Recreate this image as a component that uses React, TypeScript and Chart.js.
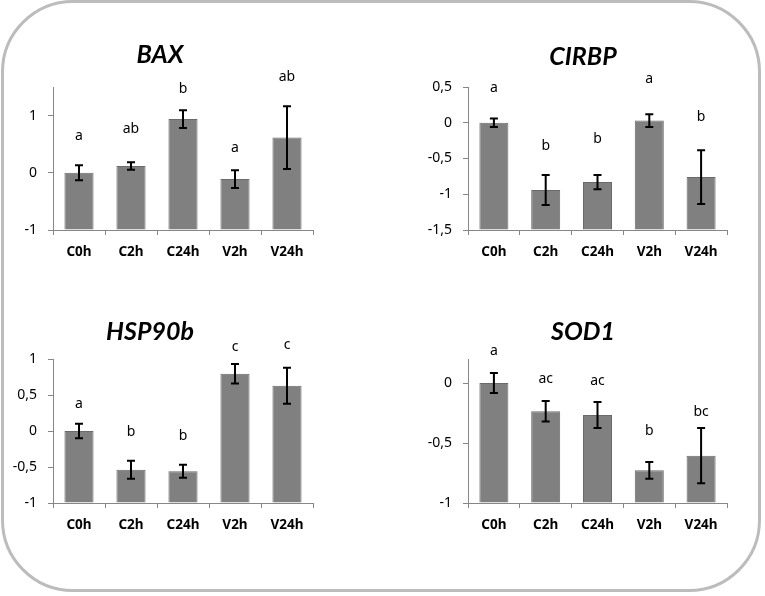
import React, { useEffect, useRef } from "react";
import { Chart, registerables } from "chart.js";

Chart.register(...registerables);

const categories = ["C0h", "C2h", "C24h", "V2h", "V24h"];

const baxValues = [0, 0.12, 0.94, -0.11, 0.615];
const baxErrors = [0.13, 0.065, 0.155, 0.155, 0.55];
const baxLetters = ["a", "ab", "b", "a", "ab"];
const baxLetterY = [0.64, 0.76, 1.47, 0.44, 1.67];

const cirbpValues = [0, -0.94, -0.83, 0.03, -0.76];
const cirbpErrors = [0.06, 0.21, 0.1, 0.088, 0.375];
const cirbpLetters = ["a", "b", "b", "a", "b"];
const cirbpLetterY = [0.49, -0.33, -0.23, 0.61, 0.08];

const hspValues = [0, -0.537, -0.56, 0.796, 0.63];
const hspErrors = [0.1, 0.125, 0.09, 0.135, 0.25];
const hspLetters = ["a", "b", "b", "c", "c"];
const hspLetterY = [0.38, -0.02, -0.07, 1.17, 1.2];

const sodValues = [0, -0.236, -0.267, -0.728, -0.606];
const sodErrors = [0.083, 0.085, 0.108, 0.07, 0.23];
const sodLetters = ["a", "ac", "ac", "b", "bc"];
const sodLetterY = [0.27, 0.03, 0.02, -0.4, -0.24];

const FONT = "'Noto Sans', 'DejaVu Sans', sans-serif";
const TITLE_FONT = "bold italic 25px Lato, 'Open Sans', sans-serif";

type Panel = {
  title: string;
  values: number[];
  errors: number[];
  letters: string[];
  letterY: number[];
  min: number;
  max: number;
  step: number;
  x0: number;
  y0: number;
  w: number;
  h: number;
  padTop: number;
  titleX: number;
  titleY: number;
};

const panels: Panel[] = [
  { title: "BAX", values: baxValues, errors: baxErrors, letters: baxLetters, letterY: baxLetterY, min: -1, max: 1.5, step: 1,
    x0: 13, y0: 30, w: 320, h: 240, padTop: 57, titleX: 160, titleY: 55 },
  { title: "CIRBP", values: cirbpValues, errors: cirbpErrors, letters: cirbpLetters, letterY: cirbpLetterY, min: -1.5, max: 0.5, step: 0.5,
    x0: 428, y0: 30, w: 319, h: 240, padTop: 57, titleX: 583, titleY: 57 },
  { title: "HSP90b", values: hspValues, errors: hspErrors, letters: hspLetters, letterY: hspLetterY, min: -1, max: 1, step: 0.5,
    x0: 13, y0: 305, w: 320, h: 238, padTop: 54, titleX: 150, titleY: 332 },
  { title: "SOD1", values: sodValues, errors: sodErrors, letters: sodLetters, letterY: sodLetterY, min: -1, max: 0.2, step: 0.5,
    x0: 428, y0: 305, w: 319, h: 238, padTop: 54, titleX: 583, titleY: 332 },
];

function ChartPanel({ p }: { p: Panel }) {
  const ref = useRef<HTMLCanvasElement | null>(null);
  useEffect(() => {
    if (!ref.current) return;
    const overlay = {
      id: "overlay",
      afterDatasetsDraw(chart: any) {
        const ctx = chart.ctx;
        const ys = chart.scales.y;
        const meta = chart.getDatasetMeta(0);
        ctx.save();
        ctx.strokeStyle = "#000";
        ctx.lineWidth = 2;
        p.values.forEach((v, i) => {
          const x = meta.data[i].x;
          const yt = ys.getPixelForValue(v + p.errors[i]);
          const yb = ys.getPixelForValue(v - p.errors[i]);
          ctx.beginPath();
          ctx.moveTo(x, yt);
          ctx.lineTo(x, yb);
          ctx.moveTo(x - 4, yt);
          ctx.lineTo(x + 4, yt);
          ctx.moveTo(x - 4, yb);
          ctx.lineTo(x + 4, yb);
          ctx.stroke();
        });
        ctx.restore();
      },
      afterDraw(chart: any) {
        const ctx = chart.ctx;
        const ys = chart.scales.y;
        const meta = chart.getDatasetMeta(0);
        ctx.save();
        ctx.fillStyle = "#000";
        ctx.textAlign = "center";
        ctx.textBaseline = "middle";
        ctx.font = "14px " + FONT;
        p.letters.forEach((l, i) => {
          ctx.fillText(l, meta.data[i].x, ys.getPixelForValue(p.letterY[i]));
        });
        ctx.font = TITLE_FONT;
        ctx.fillText(p.title, p.titleX - p.x0, p.titleY - p.y0);
        ctx.restore();
      },
    };
    const chart = new Chart(ref.current, {
      type: "bar",
      data: {
        labels: categories,
        datasets: [
          {
            data: p.values,
            base: p.min,
            backgroundColor: "#808080",
            borderColor: "#6a6a6a",
            borderWidth: 1,
            barPercentage: 0.56,
            categoryPercentage: 1,
          } as any,
        ],
      },
      options: {
        animation: false,
        responsive: false,
        devicePixelRatio: 1,
        layout: { padding: { left: 0, top: p.padTop, right: 20, bottom: 0 } },
        plugins: { legend: { display: false }, tooltip: { enabled: false }, title: { display: false } },
        scales: {
          x: {
            afterFit: (s: any) => { s.height = 40; },
            grid: { display: true, drawOnChartArea: false, tickLength: 5, color: "#868686", offset: true },
            border: { color: "#868686", width: 1 },
            ticks: { color: "#000", font: { family: FONT, size: 13.5, weight: "bold" }, padding: 9, maxRotation: 0 },
          },
          y: {
            min: p.min,
            max: p.max,
            afterFit: (s: any) => { s.width = 40; },
            grid: { display: true, drawOnChartArea: false, tickLength: 5, color: "#868686" },
            border: { color: "#868686", width: 1 },
            ticks: {
              stepSize: p.step,
              includeBounds: false,
              color: "#000",
              padding: 11,
              font: { family: FONT, size: 14 },
              callback: (v: any) => String(Math.round(Number(v) * 10) / 10).replace(".", ","),
            },
          },
        },
      } as any,
      plugins: [overlay],
    });
    return () => chart.destroy();
  }, [p]);
  return (
    <canvas
      ref={ref}
      width={p.w}
      height={p.h}
      style={{ position: "absolute", left: p.x0, top: p.y0, width: p.w, height: p.h }}
    />
  );
}

export default function App() {
  return (
    <div style={{ position: "absolute", left: 0, top: 0, width: 765, height: 596, background: "#fff" }}>
      <div
        style={{
          position: "absolute",
          left: 1,
          top: 0,
          width: 760,
          height: 592,
          boxSizing: "border-box",
          border: "3px solid #bcbcbc",
          borderRadius: 72,
        }}
      />
      {panels.map((p) => (
        <ChartPanel key={p.title} p={p} />
      ))}
    </div>
  );
}
